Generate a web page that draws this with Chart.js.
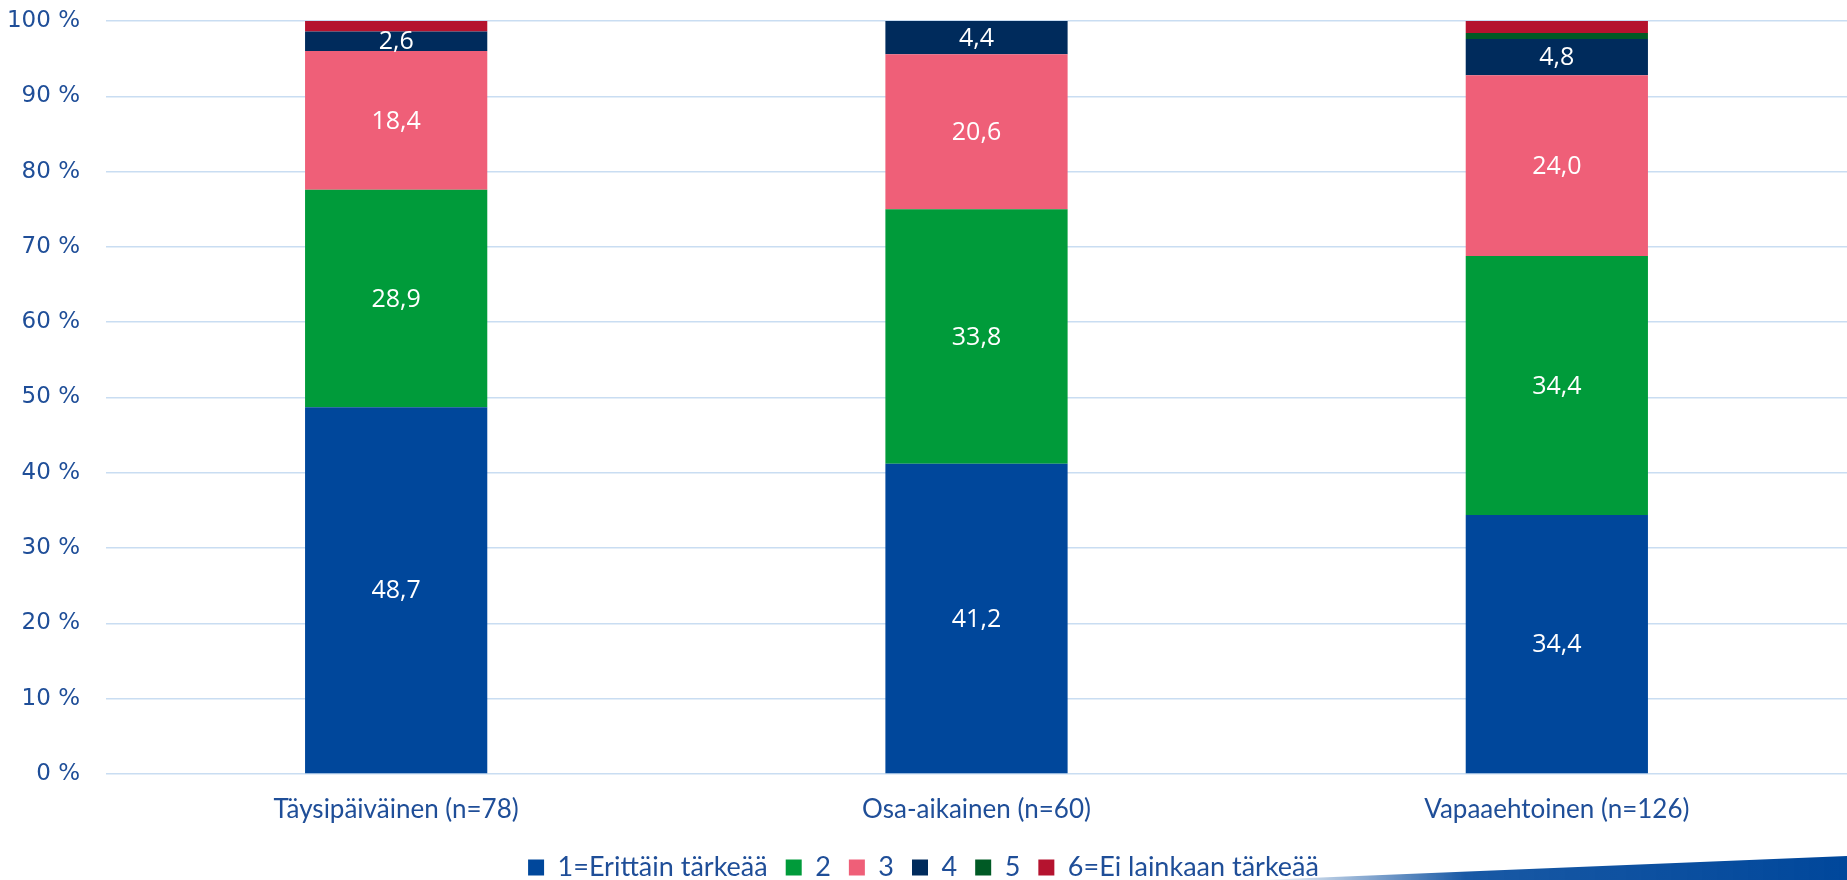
<!DOCTYPE html>
<html>
<head>
<meta charset="utf-8">
<script src="https://cdn.jsdelivr.net/npm/chart.js@4/dist/chart.umd.min.js"></script>
<style>
  html, body { margin: 0; padding: 0; background: #fff; }
  #wrap { width: 1847px; height: 880px; position: relative; }
</style>
</head>
<body>
<div id="wrap"><canvas id="bar-chart"></canvas></div>
<script>
var categories = ["Täysipäiväinen (n=78)", "Osa-aikainen (n=60)", "Vapaaehtoinen (n=126)"];
var seriesNames = ["1=Erittäin tärkeää", "2", "3", "4", "5", "6=Ei lainkaan tärkeää"];
var s1 = [48.7, 41.2, 34.4];
var s2 = [28.9, 33.8, 34.4];
var s3 = [18.4, 20.6, 24.0];
var s4 = [2.6, 4.4, 4.8];
var s5 = [0, 0, 0.8];
var s6 = [1.4, 0, 1.6];
var yTicks = [0, 10, 20, 30, 40, 50, 60, 70, 80, 90, 100];

var colors = ["#00479B", "#009B3A", "#EF5F78", "#002B5C", "#005A25", "#B5132F"];
var textBlue = "#1F4E98";

// values written inside the bars (series 1-4 only, like the original)
var barLabels = {
    id: 'barLabels',
    afterDatasetsDraw: function (chart) {
        var ctx = chart.ctx;
        ctx.save();
        ctx.font = '25px "Open Sans"';
        ctx.fillStyle = '#fff';
        ctx.textAlign = 'center';
        ctx.textBaseline = 'middle';
        chart.data.datasets.forEach(function (ds, i) {
            if (i > 3) return;
            chart.getDatasetMeta(i).data.forEach(function (bar, j) {
                var v = ds.data[j];
                if (!v) return;
                var mid = (bar.y + bar.base) / 2;
                ctx.fillText(v.toFixed(1).replace('.', ','), bar.x, mid + 1);
            });
        });
        ctx.restore();
    }
};

// blue swoosh in the bottom right corner
var swoosh = {
    id: 'swoosh',
    afterDraw: function (chart) {
        var ctx = chart.ctx;
        var w = chart.width, h = chart.height;
        ctx.save();
        var g = ctx.createLinearGradient(1260, 0, 1847, 0);
        g.addColorStop(0, 'rgba(0,71,155,0)');
        g.addColorStop(0.35, 'rgba(0,71,155,0.9)');
        g.addColorStop(1, '#00479B');
        ctx.fillStyle = g;
        ctx.beginPath();
        ctx.moveTo(1260, h);
        ctx.lineTo(w, h - 24);
        ctx.lineTo(w, h);
        ctx.closePath();
        ctx.fill();
        ctx.restore();
    }
};

var datasets = [s1, s2, s3, s4, s5, s6].map(function (d, i) {
    return {
        label: seriesNames[i],
        data: d,
        backgroundColor: colors[i],
        borderWidth: 0,
        barPercentage: 1,
        categoryPercentage: 0.314
    };
});

var ctx = document.getElementById('bar-chart');
var chart = new Chart(ctx, {
    type: 'bar',
    data: { labels: categories, datasets: datasets },
    plugins: [barLabels, swoosh],
    options: {
        responsive: true,
        maintainAspectRatio: false,
        animation: false,
        layout: { padding: { top: 21, right: 0, bottom: -11, left: 0 } },
        plugins: {
            tooltip: { enabled: false },
            legend: {
                position: 'bottom',
                labels: {
                    color: textBlue,
                    font: { family: 'Lato', size: 27 },
                    boxWidth: 16,
                    boxHeight: 16,
                    padding: 18
                }
            }
        },
        scales: {
            x: {
                stacked: true,
                grid: { display: false },
                border: { display: false },
                ticks: {
                    color: textBlue,
                    font: { family: 'Lato', size: 26 },
                    padding: 12
                },
                afterFit: function (scale) { scale.height = 62; }
            },
            y: {
                stacked: true,
                min: 0,
                max: 100,
                afterBuildTicks: function (scale) {
                    scale.ticks = yTicks.map(function (v) { return { value: v }; });
                },
                grid: { color: '#C9DDF2', lineWidth: 1.5, drawTicks: false },
                border: { display: false },
                ticks: {
                    color: textBlue,
                    font: { family: '"DejaVu Sans"', size: 23 },
                    padding: 26,
                    callback: function (v) { return v + ' %'; }
                },
                afterFit: function (scale) {
                    scale.width = 106;
                    scale.paddingTop = 0;
                    scale.paddingBottom = 0;
                }
            }
        }
    }
});
</script>
</body>
</html>
